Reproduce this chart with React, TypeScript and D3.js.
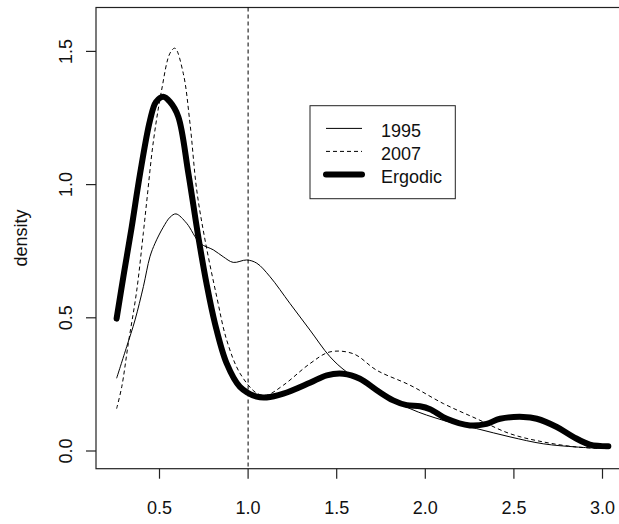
import React from "react";
import * as d3 from "d3";

const xTicks = [0.5, 1.0, 1.5, 2.0, 2.5, 3.0];
const yTicks = [0.0, 0.5, 1.0, 1.5];
const legendLabels = ["1995", "2007", "Ergodic"];
const refLine = 1.0;

const x1995 = [0.258, 0.315, 0.362, 0.409, 0.446, 0.475, 0.521, 0.56, 0.593, 0.653, 0.729, 0.804, 0.86, 0.916, 0.992, 1.049, 1.124, 1.236, 1.349, 1.462, 1.556, 1.726, 1.914, 2.102, 2.29, 2.478, 2.666, 2.854, 3.024];
const d1995 = [0.273, 0.392, 0.492, 0.617, 0.729, 0.78, 0.84, 0.878, 0.89, 0.855, 0.78, 0.755, 0.729, 0.708, 0.717, 0.705, 0.654, 0.554, 0.454, 0.354, 0.297, 0.228, 0.159, 0.115, 0.084, 0.053, 0.027, 0.015, 0.009];

const x2007 = [0.258, 0.287, 0.324, 0.371, 0.409, 0.43, 0.465, 0.512, 0.559, 0.587, 0.634, 0.672, 0.71, 0.757, 0.823, 0.879, 0.954, 1.049, 1.105, 1.199, 1.349, 1.462, 1.594, 1.726, 1.914, 2.102, 2.29, 2.478, 2.666, 2.854, 3.005];
const d2007 = [0.159, 0.241, 0.404, 0.6, 0.82, 0.95, 1.16, 1.355, 1.493, 1.512, 1.418, 1.23, 0.98, 0.792, 0.579, 0.417, 0.292, 0.217, 0.21, 0.247, 0.328, 0.372, 0.365, 0.303, 0.247, 0.178, 0.121, 0.065, 0.034, 0.015, 0.009];

const xErg = [0.258, 0.3, 0.343, 0.39, 0.446, 0.48, 0.521, 0.56, 0.606, 0.663, 0.72, 0.765, 0.813, 0.879, 0.954, 1.049, 1.105, 1.199, 1.349, 1.444, 1.537, 1.631, 1.726, 1.819, 1.895, 1.97, 2.027, 2.121, 2.252, 2.346, 2.422, 2.553, 2.629, 2.742, 2.835, 2.929, 3.033];
const dErg = [0.497, 0.67, 0.84, 1.04, 1.24, 1.31, 1.33, 1.31, 1.255, 1.042, 0.8, 0.63, 0.479, 0.329, 0.241, 0.204, 0.201, 0.215, 0.256, 0.284, 0.29, 0.271, 0.228, 0.19, 0.172, 0.168, 0.157, 0.121, 0.096, 0.102, 0.121, 0.128, 0.121, 0.09, 0.053, 0.024, 0.018];

const W = 619;
const H = 524;
const box = { left: 96, top: 7.5, right: 625, bottom: 468.7 };
const FONT = "'Liberation Sans', Arial, Helvetica, sans-serif";

export default function App() {
  const x = d3.scaleLinear().domain([0.5, 3.0]).range([159.5, 602.5]);
  const y = d3.scaleLinear().domain([0, 1.5]).range([451, 51.4]);

  const line = d3
    .line<[number, number]>()
    .x((p) => x(p[0]))
    .y((p) => y(p[1]))
    .curve(d3.curveCatmullRom.alpha(0.5));

  const zip = (a: number[], b: number[]) => a.map((v, i) => [v, b[i]] as [number, number]);

  const lx = 310;
  const ly = 105.7;
  const lw = 145.3;
  const lh = 93;
  const rowY = (i: number) => ly + 22.7 + i * 23;

  return (
    <svg
      width={W}
      height={H}
      style={{ position: "absolute", left: 0, top: 0, background: "#fff" }}
      fontFamily={FONT}
    >
      <rect x={0} y={0} width={W} height={H} fill="#fff" />
      {/* plot box */}
      <rect
        x={box.left}
        y={box.top}
        width={box.right - box.left}
        height={box.bottom - box.top}
        fill="none"
        stroke="#222"
        strokeWidth={1.2}
      />
      {/* x axis ticks */}
      {xTicks.map((t) => (
        <g key={"x" + t}>
          <line x1={x(t)} x2={x(t)} y1={box.bottom} y2={box.bottom + 10} stroke="#222" strokeWidth={1.2} />
          <text x={x(t)} y={514} textAnchor="middle" fontSize={18} fill="#111">
            {t.toFixed(1)}
          </text>
        </g>
      ))}
      {/* y axis ticks */}
      {yTicks.map((t) => (
        <g key={"y" + t}>
          <line x1={box.left - 10} x2={box.left} y1={y(t)} y2={y(t)} stroke="#222" strokeWidth={1.2} />
          <text
            transform={`translate(72,${y(t)}) rotate(-90)`}
            textAnchor="middle"
            fontSize={18}
            fill="#111"
          >
            {t.toFixed(1)}
          </text>
        </g>
      ))}
      <text transform={`translate(27,238) rotate(-90)`} textAnchor="middle" fontSize={18} fill="#111">
        density
      </text>

      {/* reference line */}
      <line
        x1={x(refLine)}
        x2={x(refLine)}
        y1={box.top}
        y2={box.bottom}
        stroke="#000"
        strokeWidth={1}
        strokeDasharray="4,3"
      />

      {/* curves */}
      <path d={line(zip(x1995, d1995)) || ""} fill="none" stroke="#000" strokeWidth={1} />
      <path d={line(zip(x2007, d2007)) || ""} fill="none" stroke="#000" strokeWidth={1} strokeDasharray="4,3" />
      <path
        d={line(zip(xErg, dErg)) || ""}
        fill="none"
        stroke="#000"
        strokeWidth={6}
        strokeLinecap="round"
        strokeLinejoin="round"
      />

      {/* legend */}
      <rect x={lx} y={ly} width={lw} height={lh} fill="#fff" stroke="#222" strokeWidth={1} />
      {legendLabels.map((lab, i) => (
        <g key={lab}>
          <line
            x1={lx + 16}
            x2={lx + 52}
            y1={rowY(i)}
            y2={rowY(i)}
            stroke="#000"
            strokeWidth={i === 2 ? 6 : 1}
            strokeDasharray={i === 1 ? "4,3" : undefined}
            strokeLinecap={i === 2 ? "round" : "butt"}
          />
          <text x={lx + 71} y={rowY(i) + 8.5} fontSize={18} fill="#111">
            {lab}
          </text>
        </g>
      ))}
    </svg>
  );
}
